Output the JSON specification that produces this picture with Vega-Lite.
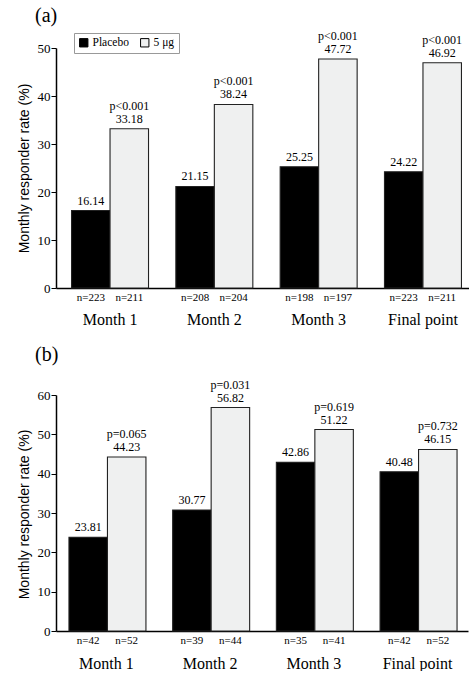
{
  "$schema": "https://vega.github.io/schema/vega-lite/v6.json",
  "background": "white",
  "padding": {"left": 17, "top": 5, "right": 0, "bottom": 0},
  "spacing": 17,
  "config": {
    "font": "Liberation Serif",
    "view": {"stroke": null},
    "axis": {"labelFont": "Liberation Serif", "titleFont": "Liberation Sans", "labelColor": "black", "titleColor": "black", "domainColor": "black", "tickColor": "black", "grid": false, "titleFontWeight": "normal"},
    "legend": {"labelFont": "Liberation Serif", "labelFontSize": 11.5, "labelColor": "black", "symbolType": "square", "symbolSize": 70, "symbolStrokeColor": "black", "symbolStrokeWidth": 1, "strokeColor": "#999999", "padding": 4, "columnPadding": 9, "labelOffset": 3},
    "text": {"font": "Liberation Serif", "color": "black"}
  },
  "vconcat": [
    {
      "title": {"text": "(a)", "anchor": "start", "frame": "bounds", "dx": 18, "offset": 4, "fontSize": 20, "fontWeight": "normal", "font": "Liberation Serif", "color": "black"},
      "width": 421,
      "height": 240,
      "data": {"values": [
        {"month": "Month 1", "group": "Placebo", "value": 16.14, "n": 223, "p": null},
        {"month": "Month 1", "group": "5 μg", "value": 33.18, "n": 211, "p": "p<0.001"},
        {"month": "Month 2", "group": "Placebo", "value": 21.15, "n": 208, "p": null},
        {"month": "Month 2", "group": "5 μg", "value": 38.24, "n": 204, "p": "p<0.001"},
        {"month": "Month 3", "group": "Placebo", "value": 25.25, "n": 198, "p": null},
        {"month": "Month 3", "group": "5 μg", "value": 47.72, "n": 197, "p": "p<0.001"},
        {"month": "Final point", "group": "Placebo", "value": 24.22, "n": 223, "p": null},
        {"month": "Final point", "group": "5 μg", "value": 46.92, "n": 211, "p": "p<0.001"}
      ]},
      "transform": [{"calculate": "'n=' + datum.n", "as": "nlabel"}],
      "encoding": {
        "x": {"field": "month", "type": "nominal", "sort": ["Month 1", "Month 2", "Month 3", "Final point"], "scale": {"paddingInner": 0.262, "paddingOuter": 0.149}, "axis": {"title": null, "labelAngle": 0, "ticks": false, "labelPadding": 23, "labelFontSize": 16, "domainWidth": 1.5}},
        "xOffset": {"field": "group", "type": "nominal", "sort": ["Placebo", "5 μg"], "scale": {"paddingInner": 0, "paddingOuter": 0}},
        "y": {"field": "value", "type": "quantitative", "scale": {"domain": [0, 50], "nice": false}, "axis": {"title": "Monthly responder rate (%)", "values": [0, 10, 20, 30, 40, 50], "labelFontSize": 13, "titleFontSize": 14, "titleY": 120, "tickSize": 5, "labelPadding": 1, "titlePadding": 6, "domainWidth": 1.5}}
      },
      "layer": [
        {
          "mark": {"type": "bar", "stroke": "#222222", "strokeWidth": 1.1},
          "encoding": {
            "fill": {"field": "group", "type": "nominal", "sort": ["Placebo", "5 μg"], "scale": {"range": ["black", "#eff0f0"]}, "legend": {"title": null, "orient": "none", "direction": "horizontal", "legendX": 18, "legendY": -15}}
          }
        },
        {
          "mark": {"type": "text", "baseline": "bottom", "dy": -3, "fontSize": 12},
          "encoding": {"text": {"field": "value", "type": "quantitative", "format": ".2f"}}
        },
        {
          "transform": [{"filter": "datum.p != null"}],
          "mark": {"type": "text", "baseline": "bottom", "dy": -16, "fontSize": 12},
          "encoding": {"text": {"field": "p"}}
        },
        {
          "mark": {"type": "text", "baseline": "top", "dy": 4, "fontSize": 11},
          "encoding": {"y": {"datum": 0, "type": "quantitative", "scale": {"domain": [0, 50], "nice": false}, "axis": {"title": "Monthly responder rate (%)", "values": [0, 10, 20, 30, 40, 50], "labelFontSize": 13, "titleFontSize": 14, "titleY": 120, "tickSize": 5, "labelPadding": 1, "titlePadding": 6, "domainWidth": 1.5}}, "text": {"field": "nlabel"}}
        },
        {
          "data": {"values": [{"month": "Month 2"}, {"month": "Month 3"}, {"month": "Final point"}]},
          "mark": {"type": "rule", "strokeWidth": 1, "color": "#333333"},
          "encoding": {
            "x": {"field": "month", "type": "nominal", "sort": ["Month 1", "Month 2", "Month 3", "Final point"], "bandPosition": -0.1775},
            "xOffset": null,
            "y": {"datum": 0, "type": "quantitative", "scale": {"domain": [0, 50], "nice": false}, "axis": {"title": "Monthly responder rate (%)", "values": [0, 10, 20, 30, 40, 50], "labelFontSize": 13, "titleFontSize": 14, "titleY": 120, "tickSize": 5, "labelPadding": 1, "titlePadding": 6, "domainWidth": 1.5}},
            "y2": {"datum": -4.8}
          }
        }
      ]
    },
    {
      "title": {"text": "(b)", "anchor": "start", "frame": "bounds", "dx": 18, "offset": 14, "fontSize": 20, "fontWeight": "normal", "font": "Liberation Serif", "color": "black"},
      "width": 412,
      "height": 236,
      "data": {"values": [
        {"month": "Month 1", "group": "Placebo", "value": 23.81, "n": 42, "p": null},
        {"month": "Month 1", "group": "5 μg", "value": 44.23, "n": 52, "p": "p=0.065"},
        {"month": "Month 2", "group": "Placebo", "value": 30.77, "n": 39, "p": null},
        {"month": "Month 2", "group": "5 μg", "value": 56.82, "n": 44, "p": "p=0.031"},
        {"month": "Month 3", "group": "Placebo", "value": 42.86, "n": 35, "p": null},
        {"month": "Month 3", "group": "5 μg", "value": 51.22, "n": 41, "p": "p=0.619"},
        {"month": "Final point", "group": "Placebo", "value": 40.48, "n": 42, "p": null},
        {"month": "Final point", "group": "5 μg", "value": 46.15, "n": 52, "p": "p=0.732"}
      ]},
      "transform": [{"calculate": "'n=' + datum.n", "as": "nlabel"}],
      "encoding": {
        "x": {"field": "month", "type": "nominal", "sort": ["Month 1", "Month 2", "Month 3", "Final point"], "scale": {"paddingInner": 0.277, "paddingOuter": 0.125}, "axis": {"title": null, "labelAngle": 0, "ticks": false, "labelPadding": 24, "labelFontSize": 16, "domainWidth": 1.5}},
        "xOffset": {"field": "group", "type": "nominal", "sort": ["Placebo", "5 μg"], "scale": {"paddingInner": 0, "paddingOuter": 0}},
        "y": {"field": "value", "type": "quantitative", "scale": {"domain": [0, 60], "nice": false}, "axis": {"title": "Monthly responder rate (%)", "values": [0, 10, 20, 30, 40, 50, 60], "labelFontSize": 13, "titleFontSize": 14, "titleY": 119, "tickSize": 5, "labelPadding": 1, "titlePadding": 6, "domainWidth": 1.5}}
      },
      "layer": [
        {
          "mark": {"type": "bar", "stroke": "#222222", "strokeWidth": 1.1},
          "encoding": {
            "fill": {"field": "group", "type": "nominal", "sort": ["Placebo", "5 μg"], "scale": {"range": ["black", "#dedede"]}, "legend": {"title": null, "orient": "none", "direction": "horizontal", "legendX": 308, "legendY": -31}}
          }
        },
        {
          "mark": {"type": "text", "baseline": "bottom", "dy": -3, "fontSize": 12},
          "encoding": {"text": {"field": "value", "type": "quantitative", "format": ".2f"}}
        },
        {
          "transform": [{"filter": "datum.p != null"}],
          "mark": {"type": "text", "baseline": "bottom", "dy": -16, "fontSize": 12},
          "encoding": {"text": {"field": "p"}}
        },
        {
          "mark": {"type": "text", "baseline": "top", "dy": 4, "fontSize": 11},
          "encoding": {"y": {"datum": 0, "type": "quantitative", "scale": {"domain": [0, 60], "nice": false}, "axis": {"title": "Monthly responder rate (%)", "values": [0, 10, 20, 30, 40, 50, 60], "labelFontSize": 13, "titleFontSize": 14, "titleY": 119, "tickSize": 5, "labelPadding": 1, "titlePadding": 6, "domainWidth": 1.5}}, "text": {"field": "nlabel"}}
        },
        {
          "data": {"values": [{"month": "Month 2"}, {"month": "Month 3"}, {"month": "Final point"}]},
          "mark": {"type": "rule", "strokeWidth": 1, "color": "#333333"},
          "encoding": {
            "x": {"field": "month", "type": "nominal", "sort": ["Month 1", "Month 2", "Month 3", "Final point"], "bandPosition": -0.1916},
            "xOffset": null,
            "y": {"datum": 0, "type": "quantitative", "scale": {"domain": [0, 60], "nice": false}, "axis": {"title": "Monthly responder rate (%)", "values": [0, 10, 20, 30, 40, 50, 60], "labelFontSize": 13, "titleFontSize": 14, "titleY": 119, "tickSize": 5, "labelPadding": 1, "titlePadding": 6, "domainWidth": 1.5}},
            "y2": {"datum": -5.6}
          }
        }
      ]
    }
  ]
}
